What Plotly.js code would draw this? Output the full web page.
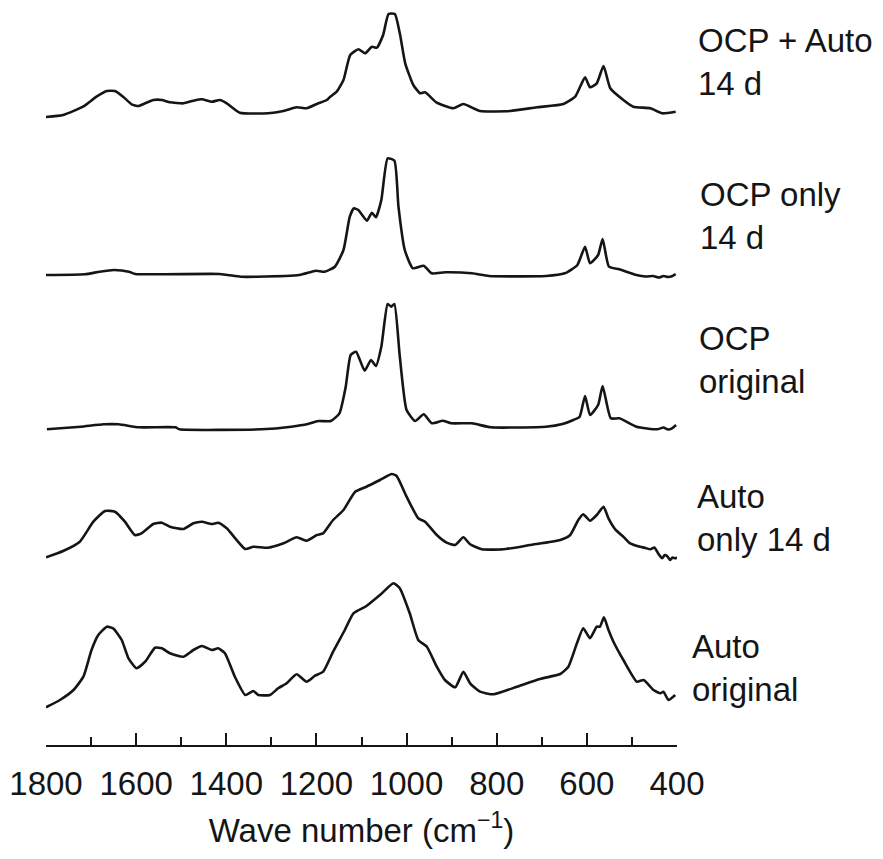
<!DOCTYPE html>
<html>
<head>
<meta charset="utf-8">
<script src="https://cdn.plot.ly/plotly-3.0.1.min.js"></script>
<style>html,body{margin:0;padding:0;background:#fff;}#chart{width:883px;height:859px;}</style>
</head>
<body>
<div id="chart"></div>
<script>
// ---- Data (wave number, cm^-1, and relative intensity, a.u.) ----
const seriesNames = ["OCP + Auto 14 d", "OCP only 14 d", "OCP original", "Auto only 14 d", "Auto original"];
const labelLine1 = ["OCP + Auto", "OCP only", "OCP", "Auto", "Auto"];
const labelLine2 = ["14 d", "14 d", "original", "only 14 d", "original"];

const wnOcpAuto14 = [1800,1762,1718,1688,1665,1647,1629,1610,1595,1580,1562,1543,1525,1495,1473,1454,1432,1414,1399,1370,1307,1273,1244,1222,1199,1177,1170,1155,1140,1125,1107,1092,1077,1066,1052,1040,1026,1015,1003,985,970,959,933,896,874,837,770,711,652,626,604,593,578,563,548,519,497,459,433,403];
const intOcpAuto14 = [3,5,13.3,23.3,29,29,23.3,15.7,14,16.7,20,20,17.7,16.7,19.3,20.7,18.3,20,16.7,7.3,6.7,9,12.7,11.7,16,20,23,28.3,40,65,70.7,66.7,73.3,72.3,85,106,106,86.7,56.7,35,26.7,27.7,17.3,11.7,16,9,9,12.7,16,23.3,42.7,32.7,36.7,54,31.7,20,13.3,11.7,6.7,8.3];

const wnOcp14 = [1800,1714,1681,1649,1616,1602,1415,1368,1332,1238,1201,1182,1159,1140,1126,1117,1107,1088,1077,1068,1056,1042,1027,1018,1004,986,962,944,915,855,817,691,649,621,604,593,575,565,551,528,490,470,453,440,430,420,410,403];
const intOcp14 = [5,5.7,8.3,10,8.3,6,6,3.3,3.3,5,9.3,8.3,13.3,30,63.3,71.7,70,59.3,67.3,62.7,80,121.7,119.3,73.3,30,11.7,14.3,6.7,7.7,6.7,4,4,6.7,15,33.3,16.7,25,41,13.3,10.7,5,3.5,4,2.5,4,3,4,6];

const wnOcpOrig = [1798,1723,1672,1639,1593,1513,1504,1322,1256,1219,1196,1168,1149,1135,1124,1112,1093,1079,1068,1056,1042,1034,1027,1015,1000,981,962,944,920,901,855,813,691,654,630,616,604,593,575,565,547,528,490,444,430,420,411,402];
const intOcpOrig = [2.7,5.3,7.7,7.7,4.7,4.7,2.7,2.7,5.3,8,11,11,18.7,45.3,77,80.3,61.3,72,66,85.3,128,125.3,128,75.3,22,11,17.7,8.7,11.3,8.7,8.7,4.7,5.3,8,12,15.3,36,17,27,46,13.7,13.7,5.3,2.7,4.5,2.5,3.7,7];

const wnAuto14 = [1800,1762,1725,1695,1669,1647,1625,1603,1588,1562,1543,1525,1495,1473,1454,1432,1418,1399,1358,1340,1307,1273,1244,1222,1199,1185,1163,1140,1114,1089,1059,1033,1022,1000,974,959,933,911,892,874,859,833,785,726,659,637,619,608,593,578,563,552,537,519,504,482,470,459,450,441,433,427,422,415,410,404,400];
const intAuto14 = [4.7,11,20.3,40.3,51,50.3,40.3,27,28.7,38,39.3,35.3,33,38.7,40.3,38,39.3,33.7,13,15.3,14.3,18.7,24.7,21.3,27,28.7,42,52,70.3,75.3,82,88,86,65.3,43.7,40.3,27,19.3,17,24.7,17.7,12.7,12.7,17,22,27,42,47.7,41.3,47,55.3,43.7,32.7,25.3,18.7,15.3,14,12.7,14.5,8,3.7,7,6,2,4.5,3.7,4.5];

const wnAutoOrig = [1800,1769,1739,1717,1699,1684,1665,1651,1632,1617,1599,1580,1558,1543,1525,1495,1473,1454,1432,1418,1403,1381,1358,1340,1329,1303,1285,1266,1244,1222,1203,1185,1163,1137,1118,1089,1059,1029,1015,993,974,955,933,915,892,874,859,837,807,755,704,659,641,622,608,593,578,571,562,552,541,519,489,474,452,437,430,419,404];
const intAutoOrig = [4.7,12,22,35.3,62,77,85.3,83.7,72,53.7,43.7,50.3,64.3,63.7,58.7,55.3,62,66,62,63.7,58.7,35.3,17,21,17,17,23.7,28.7,37.7,30.3,36.3,40.3,60.3,82,98.7,106,117,128.7,123.7,98.7,72,65.3,45.3,32,24.7,40.3,28.7,20.3,17.7,25.3,33,38,45.3,68.7,83.7,73.7,85.3,85.3,94.7,82,70.3,52,30.3,32,22,18.7,20.3,12,17];

const xTickVals = [1800,1600,1400,1200,1000,800,600,400];
const xTickText = ["1800","1600","1400","1200","1000","800","600","400"];
const xMinorVals = [1700,1500,1300,1100,900,700,500];

// ---- Layout (positions, sizes, styles) ----
const W = 883, H = 859;
const M = {l: 46, r: 206, t: 0, b: 113};
const plotH = H - M.t - M.b;
const basePx = [120, 280, 432, 562, 712];   // baseline pixel of each stacked spectrum
const spanPx = [120, 140, 140, 140, 140];
const labelMidPx = [62, 216, 360, 518, 668];
const labelLeftPx = [696, 698, 697, 695, 690];
const FONT = "Liberation Sans, Arial, Helvetica, sans-serif";
const INK = "#151515";

const xs = [wnOcpAuto14, wnOcp14, wnOcpOrig, wnAuto14, wnAutoOrig];
const ys = [intOcpAuto14, intOcp14, intOcpOrig, intAuto14, intAutoOrig];

const traces = [];
const layout = {
  width: W, height: H,
  margin: M,
  paper_bgcolor: "#fff", plot_bgcolor: "rgba(0,0,0,0)",
  showlegend: false,
  font: {family: FONT, color: INK, size: 33},
  xaxis: {
    range: [1800, 400],
    anchor: "free", position: 0,
    tickvals: xTickVals, ticktext: xTickText,
    ticks: "inside", ticklen: 12, tickwidth: 2, tickcolor: INK,
    minor: {ticks: "inside", ticklen: 8, tickwidth: 2, tickcolor: INK, tickvals: xMinorVals, showgrid: false},
    showline: true, linewidth: 2, linecolor: INK,
    showgrid: false, zeroline: false,
    ticklabelstandoff: 8,
    tickfont: {family: FONT, size: 33, color: INK},
    title: {text: "Wave number (cm<sup>\u22121</sup>)", font: {family: FONT, size: 33, color: INK}, standoff: 17}
  },
  annotations: []
};

for (let i = 0; i < 5; i++) {
  const ax = i === 0 ? "yaxis" : "yaxis" + (i + 1);
  const ref = i === 0 ? "y" : "y" + (i + 1);
  const lo = (plotH - basePx[i]) / plotH;
  const hi = Math.min(1, (plotH - basePx[i] + spanPx[i]) / plotH);
  layout[ax] = {
    domain: [lo, hi], range: [0, spanPx[i]], visible: false, fixedrange: true,
    anchor: "x"
  };
  traces.push({
    type: "scatter", mode: "lines", name: seriesNames[i],
    x: xs[i], y: ys[i], xaxis: "x", yaxis: ref,
    line: {color: INK, width: 2.6, shape: "spline", smoothing: 0.5},
    hoverinfo: "skip", cliponaxis: false
  });
  layout.annotations.push({
    xref: "paper", yref: "paper",
    x: (labelLeftPx[i] - M.l) / (W - M.l - M.r),
    y: (plotH - labelMidPx[i]) / plotH,
    xanchor: "left", yanchor: "middle", align: "left",
    showarrow: false,
    text: labelLine1[i] + "<br>" + labelLine2[i],
    font: {family: FONT, size: 33, color: INK}
  });
}

Plotly.newPlot("chart", traces, layout, {staticPlot: true, displayModeBar: false});
</script>
</body>
</html>
